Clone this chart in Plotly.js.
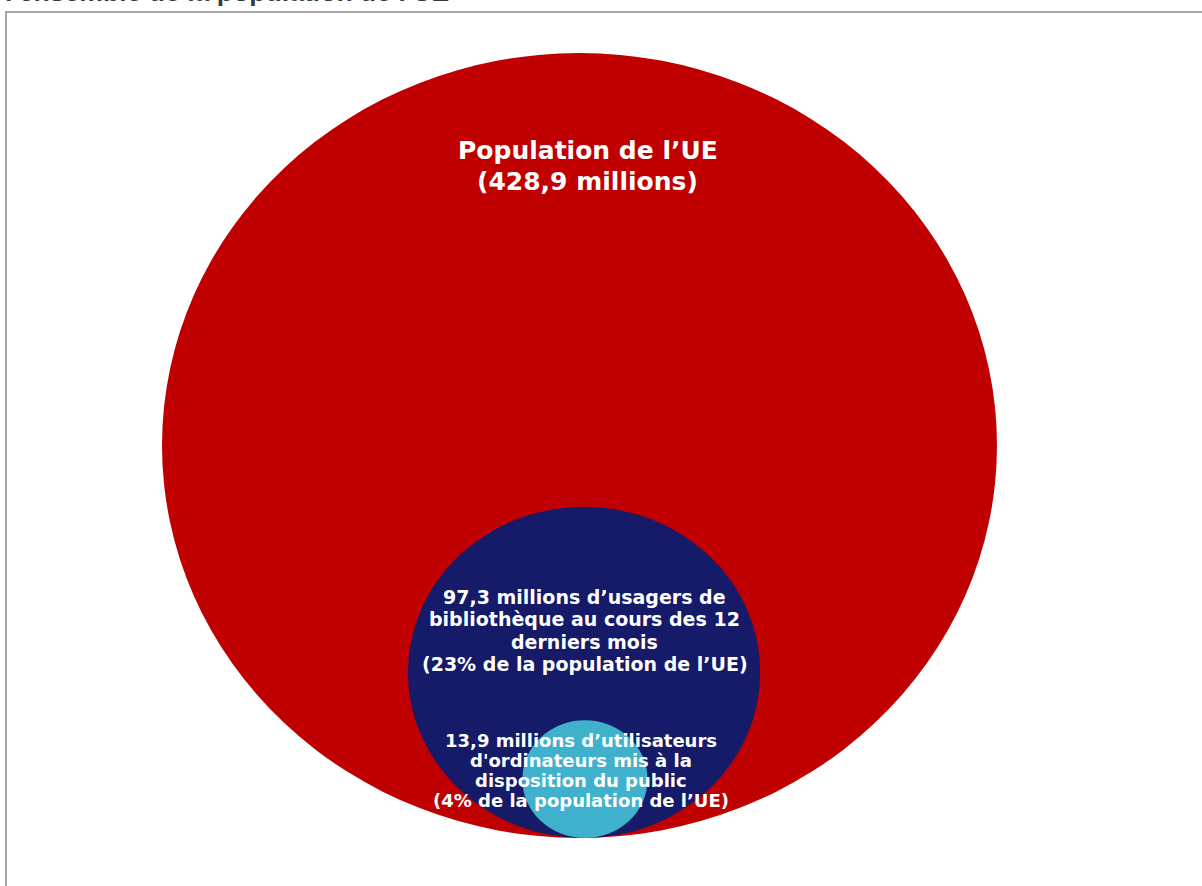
<!DOCTYPE html>
<html>
<head>
<meta charset="utf-8">
<script src="https://cdn.plot.ly/plotly-3.0.1.min.js"></script>
<style>html,body{margin:0;padding:0;background:#fff;}#chart{width:1202px;height:886px;}</style>
</head>
<body>
<div id="chart"></div>
<script>
// Venn-style nested circles (unit: radius of EU population circle = 1)
var circleNames = ["Population de l’UE", "Usagers de bibliothèque", "Utilisateurs d'ordinateurs publics"];
var circleCx = [0, 0.011, 0.013];
var circleCy = [0, -0.578, -0.85];
var circleR = [1, 0.422, 0.15];
var circleColors = ["#C00000", "#151A69", "#40B1CC"];

// Label lines for each circle
var labelLinesPop = ["Population de l’UE", "(428,9 millions)"];
var labelLinesLib = ["97,3 millions d’usagers de", "bibliothèque au cours des 12", "derniers mois", "(23% de la population de l’UE)"];
var labelLinesPc = ["13,9 millions d’utilisateurs", "d'ordinateurs mis à la", "disposition du public", "(4% de la population de l’UE)"];
var labelLines = [labelLinesPop, labelLinesLib, labelLinesPc];
var labelX = [0.02, 0.013, 0.004];
var labelTopY = [0.7525, -0.385, -0.7505];   // centre of first line
var labelStep = [0.079, 0.0573, 0.0515];   // line spacing
var labelSizes = [25, 19, 18];

var chartTitle = "l'ensemble de la population de l'UE";

var shapes = [];
for (var i = 0; i < circleR.length; i++) {
  shapes.push({
    type: 'circle', xref: 'x', yref: 'y',
    x0: circleCx[i] - circleR[i], x1: circleCx[i] + circleR[i],
    y0: circleCy[i] - circleR[i], y1: circleCy[i] + circleR[i],
    fillcolor: circleColors[i], line: {width: 0}, layer: 'below'
  });
}
shapes.push({
  type: 'rect', xref: 'paper', yref: 'paper',
  x0: 6/1202, x1: 1.01, y0: -0.01, y1: 1 - 12/886,
  line: {color: '#A6A6A6', width: 2}, fillcolor: 'rgba(0,0,0,0)'
});

var annotations = [];
for (var j = 0; j < labelLines.length; j++) {
  for (var k = 0; k < labelLines[j].length; k++) {
    annotations.push({
      x: labelX[j], y: labelTopY[j] - k * labelStep[j], xref: 'x', yref: 'y',
      text: labelLines[j][k], showarrow: false,
      font: {family: 'DejaVu Sans', size: labelSizes[j], color: '#FFFFFF', weight: 'bold'},
      align: 'center', xanchor: 'center', yanchor: 'middle'
    });
  }
}
annotations.push({
  x: 3/1202, y: 1 - 9/886, xref: 'paper', yref: 'paper',
  text: '<b>' + chartTitle + '</b>', showarrow: false,
  font: {family: 'Liberation Sans', size: 26.6, color: '#3A3A3A'},
  xanchor: 'left', yanchor: 'bottom'
});

var trace = {
  x: circleCx, y: circleCy, text: circleNames, mode: 'markers',
  marker: {size: 1, opacity: 0}, hoverinfo: 'text', showlegend: false
};

var layout = {
  width: 1202, height: 886,
  margin: {l: 0, r: 0, t: 0, b: 0},
  paper_bgcolor: '#FFFFFF', plot_bgcolor: '#FFFFFF',
  xaxis: {range: [-579.5/417.5, (1202-579.5)/417.5], visible: false, fixedrange: true},
  yaxis: {range: [-(886-445.5)/392.5, 445.5/392.5], visible: false, fixedrange: true},
  shapes: shapes,
  annotations: annotations,
  showlegend: false
};

Plotly.newPlot('chart', [trace], layout, {displayModeBar: false, staticPlot: true});
</script>
</body>
</html>
